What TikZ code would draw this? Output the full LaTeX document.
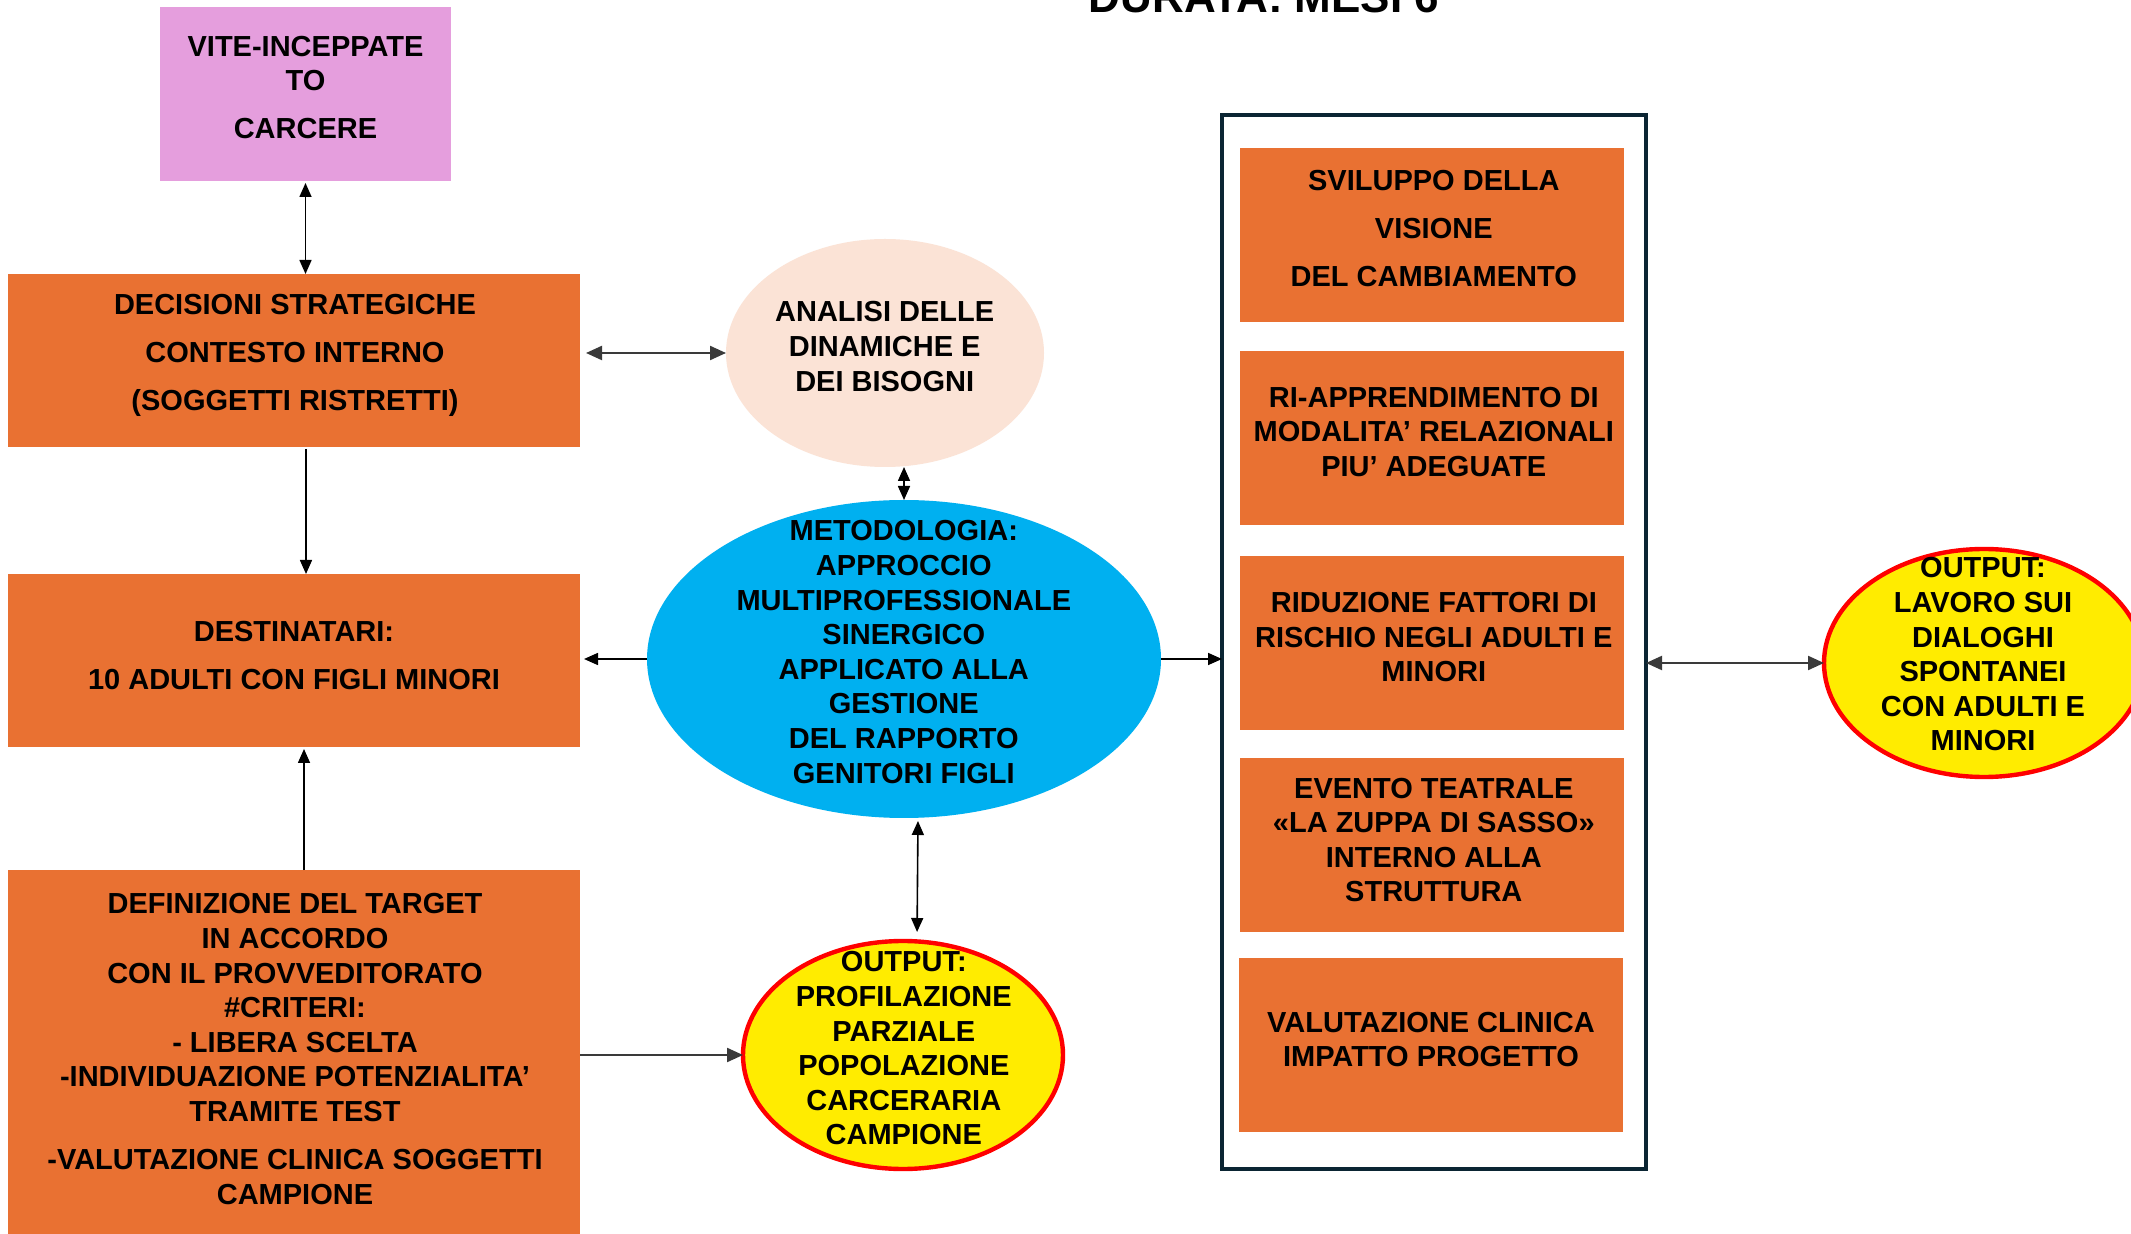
\documentclass[tikz,border=0pt]{standalone}
\usepackage{fontspec}
\setmainfont{Liberation Sans}
\usetikzlibrary{arrows.meta,shapes.geometric,calc}
\definecolor{orng}{HTML}{E97132}
\definecolor{pnk}{HTML}{E59EDD}
\definecolor{peach}{HTML}{FBE3D6}
\definecolor{cyanb}{HTML}{00B0F0}
\definecolor{yel}{HTML}{FFEC00}
\definecolor{redb}{HTML}{FF0000}
\definecolor{navy}{HTML}{0B2533}
\definecolor{lgray}{HTML}{3A3A3A}
\begin{document}
\begin{tikzpicture}[x=0.5pt,y=-0.5pt,
  box/.style={rectangle,inner sep=0,outer sep=0,draw=none},
  orange box/.style={box,fill=orng,minimum width=286pt,minimum height=86.5pt},
  inner box/.style={box,fill=orng,minimum width=192pt,minimum height=87pt},
  ell/.style={ellipse,inner sep=0,outer sep=0},
  yell/.style={ell,fill=yel,draw=redb,line width=2.2pt,minimum width=160pt,minimum height=114pt},
  txt/.style={align=center,inner sep=0,font=\fontsize{14.5}{17.3}\selectfont\bfseries},
  bi/.style={line width=0.8pt,draw=black,{Triangle[length=7pt,width=6pt]}-{Triangle[length=7pt,width=6pt]}},
  uni/.style={line width=0.8pt,draw=black,-{Triangle[length=7pt,width=6pt]}},
  hbi/.style={line width=1.1pt,draw=lgray,{Triangle[length=8pt,width=7pt]}-{Triangle[length=8pt,width=7pt]}},
  huni/.style={line width=1.1pt,draw=lgray,-{Triangle[length=8pt,width=7pt]}}]
\clip (0,0) rectangle (2131,1234);
\fill[white] (0,0) rectangle (2131,1234);

% title (cut off by top edge)
\node[font=\fontsize{22}{26}\selectfont\bfseries,anchor=base,inner sep=0] (title) at (1264,13) {DURATA: MESI 6};

% shapes
\node[box,fill=pnk,minimum width=145.5pt,minimum height=87pt] (pink) at (305.5,94) {};
\node[orange box] (dec) at (294,360.5) {};
\node[orange box] (dest) at (294,660.5) {};
\node[box,fill=orng,minimum width=286pt,minimum height=185pt] (def) at (294,1055) {};
\node[ell,fill=peach,minimum width=159pt,minimum height=114pt] (ana) at (885,353) {};
\node[ell,fill=cyanb,minimum width=257pt,minimum height=159pt] (met) at (904,659) {};
\node[yell] (out1) at (903,1055) {};
\node[box,draw=navy,line width=2.2pt,minimum width=212pt,minimum height=527pt] (frame) at (1434,642) {};
\node[inner box] (s1) at (1432,235) {};
\node[inner box] (s2) at (1432,438.5) {};
\node[inner box] (s3) at (1432,643) {};
\node[inner box] (s4) at (1432,845) {};
\node[inner box] (s5) at (1431,1045) {};
\node[yell] (out2) at (1984,663) {};

% texts
\node[txt] (pinkt) at (305.5,87.6) {VITE-INCEPPATE\\TO\\[6.7pt]CARCERE};
\node[txt] (dect) at (295,355.5) {DECISIONI STRATEGICHE\\[6.7pt]CONTESTO INTERNO\\[6.7pt](SOGGETTI RISTRETTI)};
\node[txt] (anat) at (884.7,346.5) {ANALISI DELLE\\DINAMICHE E\\DEI BISOGNI};
\node[txt] (mett) at (903.8,652) {METODOLOGIA:\\APPROCCIO\\MULTIPROFESSIONALE\\SINERGICO\\APPLICATO ALLA\\GESTIONE\\DEL RAPPORTO\\GENITORI FIGLI};
\node[txt] (destt) at (294,655.7) {DESTINATARI:\\[6.7pt]10 ADULTI CON FIGLI MINORI};
\node[txt] (deft) at (295,1049) {DEFINIZIONE DEL TARGET\\IN ACCORDO\\CON IL PROVVEDITORATO\\\#CRITERI:\\- LIBERA SCELTA\\-INDIVIDUAZIONE POTENZIALITA’\\TRAMITE TEST\\[6.7pt]-VALUTAZIONE CLINICA SOGGETTI\\CAMPIONE};
\node[txt] (out1t) at (903.8,1048.5) {OUTPUT:\\PROFILAZIONE\\PARZIALE\\POPOLAZIONE\\CARCERARIA\\CAMPIONE};
\node[txt] (s1t) at (1433.8,229) {SVILUPPO DELLA\\[6.7pt]VISIONE\\[6.7pt]DEL CAMBIAMENTO};
\node[txt] (s2t) at (1433.8,432) {RI-APPRENDIMENTO DI\\MODALITA’ RELAZIONALI\\PIU’ ADEGUATE};
\node[txt] (s3t) at (1433.8,637.4) {RIDUZIONE FATTORI DI\\RISCHIO NEGLI ADULTI E\\MINORI};
\node[txt] (s4t) at (1433.8,840) {EVENTO TEATRALE\\«LA ZUPPA DI SASSO»\\INTERNO ALLA\\STRUTTURA};
\node[txt] (s5t) at (1431,1039.7) {VALUTAZIONE CLINICA\\IMPATTO PROGETTO};
\node[txt] (out2t) at (1983,654.4) {OUTPUT:\\LAVORO SUI\\DIALOGHI\\SPONTANEI\\CON ADULTI E\\MINORI};

% connectors
\draw[bi,shorten <=1pt] (pink.south) -- (pink.south |- dec.north);
\draw[hbi,shorten <=3pt] (dec.east |- ana.west) -- (ana.west);
\draw[uni,shorten <=1pt] ([xshift=6pt]dec.south) -- ([xshift=6pt]dest.north);
\draw[uni,shorten >=1pt] ([xshift=5pt]def.north) -- ([xshift=5pt]dest.south);
\draw[bi] (met.north) -- (met.north |- ana.south);
\draw[uni,shorten >=2pt] (met.west) -- (dest.east |- met.west);
\draw[uni] (met.east) -- (frame.west |- met.east);
\draw[bi,shorten <=1.5pt,shorten >=4.5pt] ([xshift=7pt]met.south) -- ([xshift=7pt]out1.north);
\draw[huni] (def.east |- out1.west) -- (out1.west);
\draw[hbi] (frame.east |- out2.west) -- (out2.west);
\end{tikzpicture}
\end{document}
